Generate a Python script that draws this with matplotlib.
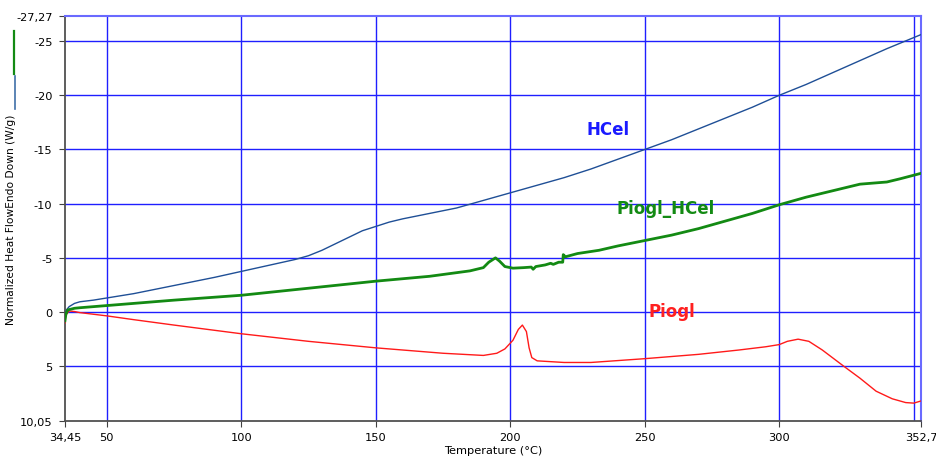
import matplotlib
matplotlib.use("Agg")
import matplotlib.pyplot as plt
from matplotlib.lines import Line2D

plt.rcParams['font.family'] = ['DejaVu Sans']

# --- data ---
hcel_t = [34.45, 35, 36, 38, 40, 45, 50, 60, 70, 80, 90, 100, 110, 120, 125, 130, 135,
          140, 145, 150, 155, 160, 170, 180, 190, 200, 210, 220, 230, 240, 250, 260,
          270, 280, 290, 300, 310, 320, 330, 340, 352.7]
hcel_v = [0.5, -0.2, -0.5, -0.8, -0.95, -1.1, -1.3, -1.7, -2.2, -2.7, -3.2, -3.75, -4.3,
          -4.85, -5.2, -5.7, -6.3, -6.9, -7.5, -7.9, -8.3, -8.6, -9.1, -9.6, -10.3, -11.0,
          -11.7, -12.4, -13.2, -14.1, -15.0, -15.9, -16.9, -17.9, -18.9, -20.0, -21.0,
          -22.1, -23.2, -24.3, -25.6]

mix_t = [34.45, 34.8, 35.5, 38, 40, 50, 60, 75, 100, 125, 150, 170, 185, 190, 192, 194.5,
         196, 198, 201, 205, 207.8, 208.5, 209.5, 213, 215, 216, 218, 219.5, 219.7, 220.5,
         225, 233, 240, 250, 260, 270, 280, 290, 300, 310, 320, 330, 335, 340, 345, 352.7]
mix_v = [0.8, 0.2, -0.2, -0.35, -0.4, -0.6, -0.8, -1.1, -1.55, -2.2, -2.85, -3.3, -3.8, -4.1,
         -4.6, -5.0, -4.7, -4.2, -4.05, -4.1, -4.15, -3.95, -4.2, -4.35, -4.5, -4.4, -4.6,
         -4.6, -5.3, -5.1, -5.4, -5.7, -6.1, -6.6, -7.1, -7.7, -8.4, -9.1, -9.9, -10.6,
         -11.2, -11.8, -11.9, -12.0, -12.3, -12.8]

piogl_t = [34.45, 34.7, 36, 38, 40, 50, 60, 75, 100, 125, 150, 175, 190, 195, 198, 201,
           203, 204.5, 206, 207, 208, 210, 220, 230, 250, 270, 285, 295, 300, 303, 307,
           311, 316, 324, 330, 336, 342, 347, 350, 352.7]
piogl_v = [1.0, 0.3, -0.1, -0.05, 0.05, 0.35, 0.7, 1.2, 2.0, 2.7, 3.3, 3.8, 4.0, 3.8, 3.4,
           2.6, 1.6, 1.2, 1.8, 3.3, 4.2, 4.5, 4.65, 4.65, 4.3, 3.9, 3.5, 3.2, 3.0, 2.7,
           2.5, 2.7, 3.5, 5.0, 6.1, 7.3, 8.0, 8.35, 8.4, 8.2]

x_ticks = [34.45, 50, 100, 150, 200, 250, 300, 352.7]
x_labels = ['34,45', '50', '100', '150', '200', '250', '300', '352,7']
x_grid = [50, 100, 150, 200, 250, 300, 350]
y_ticks = [-27.27, -25, -20, -15, -10, -5, 0, 5, 10.05]
y_labels = ['-27,27', '-25', '-20', '-15', '-10', '-5', '0', '5', '10,05']
y_grid = [-25, -20, -15, -10, -5, 0, 5]

C_BLUE = '#1f4f96'
C_GREEN = '#138a13'
C_RED = '#ff1a1a'
C_GRID = '#1f1fff'

fig = plt.figure(figsize=(9.36, 4.6), dpi=100)
ax = fig.add_axes([0.0694, 0.0826, 0.9146, 0.8794])

for g in x_grid:
    ax.axvline(g, color=C_GRID, lw=1.0, zorder=1)
for g in y_grid:
    ax.axhline(g, color=C_GRID, lw=1.0, zorder=1)

ax.plot(hcel_t, hcel_v, color=C_BLUE, lw=1.0, zorder=3)
ax.plot(piogl_t, piogl_v, color=C_RED, lw=1.0, zorder=3)
ax.plot(mix_t, mix_v, color=C_GREEN, lw=2.0, zorder=4)

ax.set_xlim(34.45, 352.7)
ax.set_ylim(10.05, -27.27)

ax.set_xticks(x_ticks)
ax.set_xticklabels(x_labels)
ax.set_yticks(y_ticks)
ax.set_yticklabels(y_labels)
ax.tick_params(axis='both', labelsize=8.2, direction='out', length=4,
               color='#404040', pad=5)
ax.tick_params(axis='x', pad=4)

for s in ['left', 'bottom']:
    ax.spines[s].set_color('#505050')
    ax.spines[s].set_linewidth(1.3)
for s in ['top', 'right']:
    ax.spines[s].set_color('#6a6aff')
    ax.spines[s].set_linewidth(1.5)

ax.set_xlabel('Temperature (°C)', fontsize=8.2, labelpad=2)
fig.text(0.0118, 0.522, 'Normalized Heat FlowEndo Down (W/g)', rotation=90,
         ha='center', va='center', fontsize=7.7)

# little series markers at the left edge
fig.add_artist(Line2D([0.0145, 0.0145], [1 - 32/460, 1 - 75/460], color=C_GREEN, lw=1.6))
fig.add_artist(Line2D([0.016, 0.016], [1 - 77/460, 1 - 110/460], color='#3f6fa8', lw=1.2))

ax.text(236.4, -16.9, 'HCel', color='#1a1aff', fontsize=12, fontweight='bold',
        ha='center', va='center')
ax.text(257.8, -9.6, 'Piogl_HCel', color=C_GREEN, fontsize=12, fontweight='bold',
        ha='center', va='center')
ax.text(260.2, -0.1, 'Piogl', color='#ff2020', fontsize=12, fontweight='bold',
        ha='center', va='center')

fig.savefig('out.png', dpi=100)
